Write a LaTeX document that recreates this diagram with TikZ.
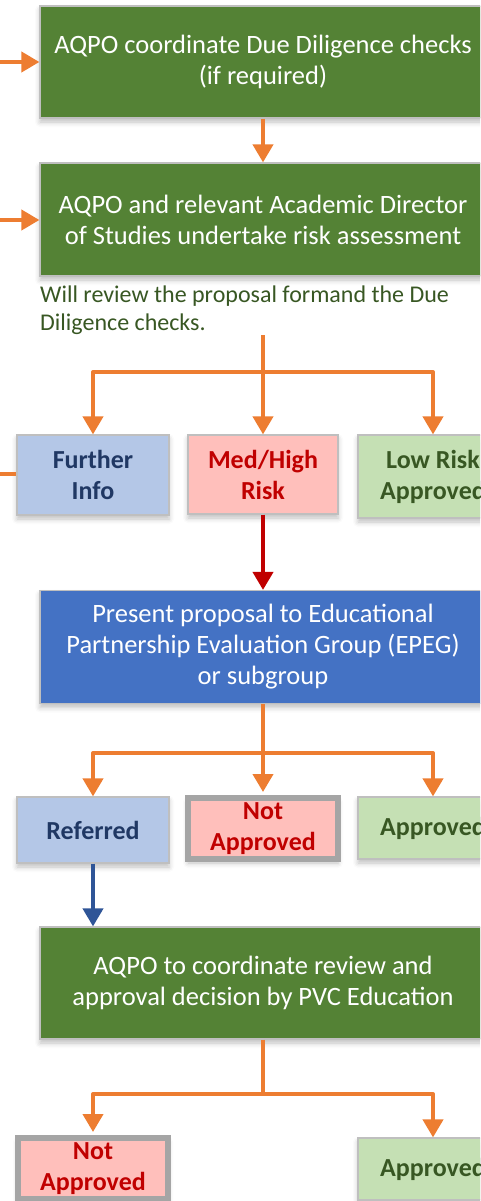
\documentclass[tikz,border=0pt]{standalone}
\usepackage{fontspec}
\setmainfont{Carlito}
\usetikzlibrary{arrows.meta,shadows.blur}
\definecolor{cOrange}{HTML}{ED7D31}
\definecolor{cGreen}{HTML}{548235}
\definecolor{cBlue}{HTML}{4472C4}
\definecolor{cLBlue}{HTML}{B4C7E7}
\definecolor{cDBlue}{HTML}{203864}
\definecolor{cPink}{HTML}{FFBFBB}
\definecolor{cRed}{HTML}{C00000}
\definecolor{cLGreen}{HTML}{C5E0B4}
\definecolor{cDGreen}{HTML}{385723}
\definecolor{cBorder}{HTML}{BFBFBF}
\definecolor{cThick}{HTML}{A5A5A5}
\definecolor{cArrBlue}{HTML}{2F5597}
\tikzset{
  shad/.style={blur shadow={shadow xshift=0pt, shadow yshift=-4pt, shadow blur radius=5pt, shadow opacity=25}},
  bigbox/.style={shad, rectangle, draw=cBorder, line width=1.2pt, minimum width=446pt, minimum height=112pt,
    inner sep=0pt, text=white, align=center, font=\fontsize{26.5}{31}\selectfont},
  smallbox/.style={shad, rectangle, draw=cBorder, line width=1.2pt, minimum width=152pt,
    inner sep=0pt, align=center, font=\bfseries\fontsize{26}{31}\selectfont},
  infobox/.style={smallbox, fill=cLBlue, text=cDBlue},
  riskbox/.style={smallbox, fill=cPink, text=cRed},
  okbox/.style={smallbox, fill=cLGreen, text=cDGreen},
  nobox/.style={smallbox, fill=cPink, text=cRed, draw=cThick, line width=6pt, minimum width=150pt, minimum height=61pt},
  oline/.style={draw=cOrange, line width=4pt, line join=round},
  oarrow/.style={oline, -{Triangle[width=20pt,length=18pt]}},
  rarrow/.style={draw=cRed, line width=4pt, -{Triangle[width=20pt,length=18pt]}},
  barrow/.style={draw=cArrBlue, line width=4pt, -{Triangle[width=20pt,length=18pt]}},
}
\begin{document}
\begin{tikzpicture}[x=1pt,y=-1pt]
\useasboundingbox (0,0) rectangle (480,1201);
\clip (0,0) rectangle (480,1201);
% main boxes
\node[bigbox, fill=cGreen] (b1) at (263,62) {AQPO coordinate Due Diligence checks\\(if required)};
\node[bigbox, fill=cGreen, minimum height=113pt] (b2) at (263,219.5) {AQPO and relevant Academic Director\\of Studies undertake risk assessment};
\node[anchor=north west, inner sep=0pt, align=left, text=cDGreen, font=\fontsize{24}{28}\selectfont] (note) at (40,286)
  {Will review the proposal formand the Due\\Diligence checks.};
\node[infobox, minimum height=80pt] (fi) at (93,475) {Further\\Info};
\node[riskbox, minimum width=150pt, minimum height=79pt] (mh) at (263,474.5) {Med/High\\Risk};
\node[okbox, minimum width=150pt, minimum height=83pt] (lr) at (433,476.5) {Low Risk\\Approved};
\node[bigbox, fill=cBlue, minimum height=113pt] (ep) at (263,647) {Present proposal to Educational\\Partnership Evaluation Group (EPEG)\\or subgroup};
\node[infobox, minimum height=66pt] (rf) at (93,830) {Referred};
\node[nobox] (na) at (263,828.5) {Not\\Approved};
\node[okbox, minimum width=150pt, minimum height=62pt] (ap) at (433,828) {Approved};
\node[bigbox, fill=cGreen] (b4) at (263,983) {AQPO to coordinate review and\\approval decision by PVC Education};
\node[nobox] (nb) at (93,1168.5) {Not\\Approved};
\node[okbox, minimum width=150pt, minimum height=62pt] (aq) at (433,1169) {Approved};
% coordinates
\coordinate (in1) at (0,62);
\coordinate (in2) at (0,220);
\coordinate (in3) at (0,474);
\coordinate (s1) at (263,335);
\coordinate (j1) at (263,372);
\coordinate (j2) at (263,753);
\coordinate (j3) at (263,1094);
% connectors
\draw[oarrow] (in1) -- (b1.west);
\draw[oarrow] (b1.south) -- (b2.north);
\draw[oarrow] (in2) -- (in2 -| b2.west);
\draw[oline] (in3) -- (in3 -| fi.west);
\draw[oline] (s1) -- (j1);
\draw[oarrow] (j1) -| (fi.north);
\draw[oarrow] (j1) -- (mh.north);
\draw[oarrow] (j1) -| (lr.north);
\draw[rarrow] (mh.south) -- (ep.north);
\draw[oline] (ep.south) -- (j2);
\draw[oarrow] (j2) -| (rf.north);
\draw[oarrow] (j2) -- ([yshift=3pt]na.north);
\draw[oarrow] (j2) -| (ap.north);
\draw[barrow] (rf.south) -- (rf.south |- b4.north);
\draw[oline] (b4.south) -- (j3);
\draw[oarrow] (j3) -| ([yshift=3pt]nb.north);
\draw[oarrow] (j3) -| (aq.north);
\end{tikzpicture}
\end{document}
